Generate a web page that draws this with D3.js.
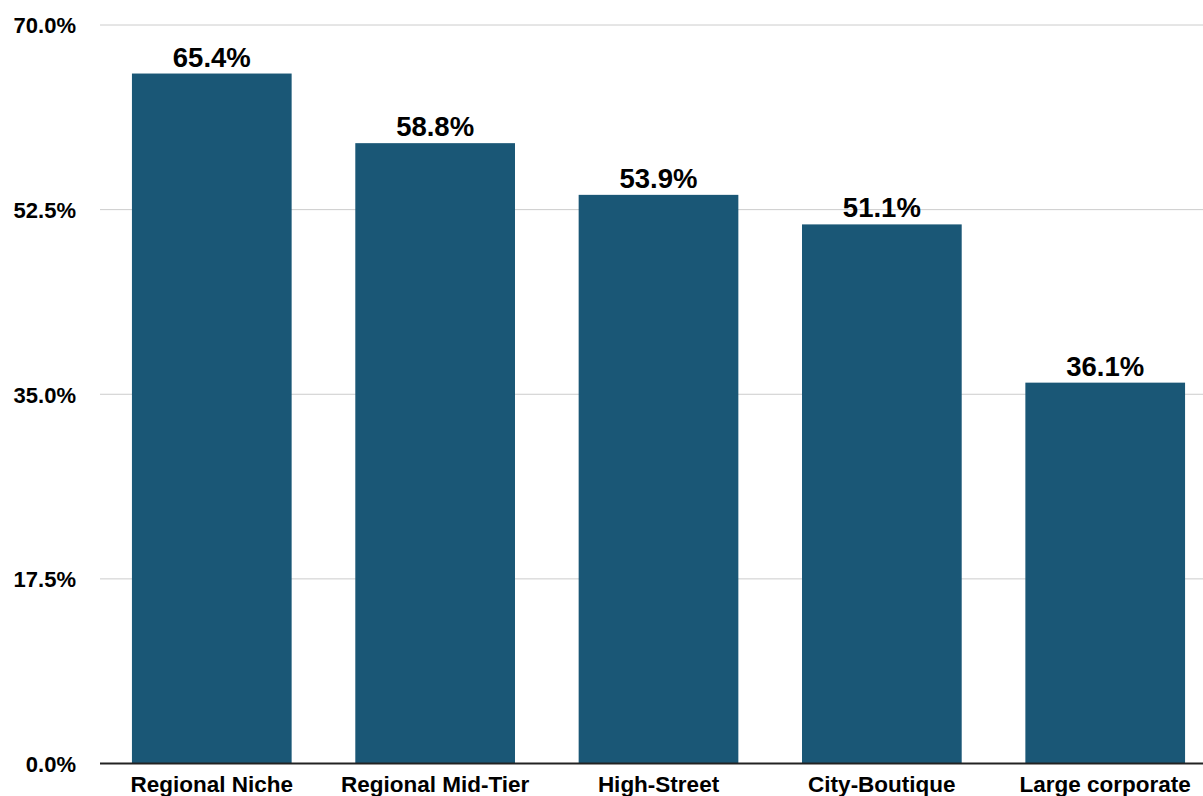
<!DOCTYPE html>
<html>
<head>
<meta charset="utf-8">
<script src="https://cdn.jsdelivr.net/npm/d3@7"></script>
<style>
  html, body { margin: 0; padding: 0; background: #fff; }
  svg { display: block; }
  text { font-family: "Liberation Sans", Arial, Helvetica, sans-serif; font-weight: bold; fill: #000; }
</style>
</head>
<body>
<svg id="chart" width="1203" height="796"></svg>
<script>
const categories = ["Regional Niche", "Regional Mid-Tier", "High-Street", "City-Boutique", "Large corporate"];
const values = [65.4, 58.8, 53.9, 51.1, 36.1];
const yTicks = [0, 17.5, 35, 52.5, 70];

const svg = d3.select("#chart");
const mLeft = 100, mRight = 1203, mTop = 25, mBottom = 763.5;

const x = d3.scaleBand().domain(categories).range([mLeft, 1217]).paddingInner(0.285).paddingOuter(0.143);
const y = d3.scaleLinear().domain([0, 70]).range([mBottom, mTop]);

// gridlines
svg.append("g").selectAll("line").data(yTicks.filter(d => d > 0)).join("line")
  .attr("x1", mLeft).attr("x2", mRight)
  .attr("y1", d => y(d)).attr("y2", d => y(d))
  .attr("stroke", "#cccccc").attr("stroke-width", 1);

// y axis labels
const yAxis = d3.axisLeft(y).tickValues(yTicks).tickSize(0).tickPadding(0)
  .tickFormat(d => d.toFixed(1) + "%");
const gy = svg.append("g").attr("transform", `translate(76,0)`).call(yAxis);
gy.select(".domain").remove();
gy.selectAll("text").style("font-size", "22px").attr("dy", "0.36em")
  .style("font-family", '"Liberation Sans", Arial, sans-serif').style("font-weight", "bold").attr("fill", "#000");

// bars
svg.append("g").selectAll("rect").data(values).join("rect")
  .attr("x", (d, i) => x(categories[i]))
  .attr("width", x.bandwidth())
  .attr("y", d => y(d))
  .attr("height", d => y(0) - y(d))
  .attr("fill", "#1a5776");

// value labels
svg.append("g").selectAll("text").data(values).join("text")
  .attr("x", (d, i) => x(categories[i]) + x.bandwidth() / 2)
  .attr("y", d => y(d) - 7)
  .attr("text-anchor", "middle")
  .style("font-size", "27.5px")
  .text(d => d.toFixed(1) + "%");

// x axis
const xAxis = d3.axisBottom(x).tickSize(0).tickPadding(0);
const gx = svg.append("g").attr("transform", `translate(0,${mBottom})`).call(xAxis);
gx.select(".domain").remove();
gx.selectAll("text").style("font-size", "22.5px").attr("dy", 0).attr("y", 28.5)
  .style("font-family", '"Liberation Sans", Arial, sans-serif').style("font-weight", "bold").attr("fill", "#000");

svg.append("line").attr("x1", mLeft).attr("x2", mRight).attr("y1", mBottom).attr("y2", mBottom)
  .attr("stroke", "#222").attr("stroke-width", 2);
</script>
</body>
</html>
